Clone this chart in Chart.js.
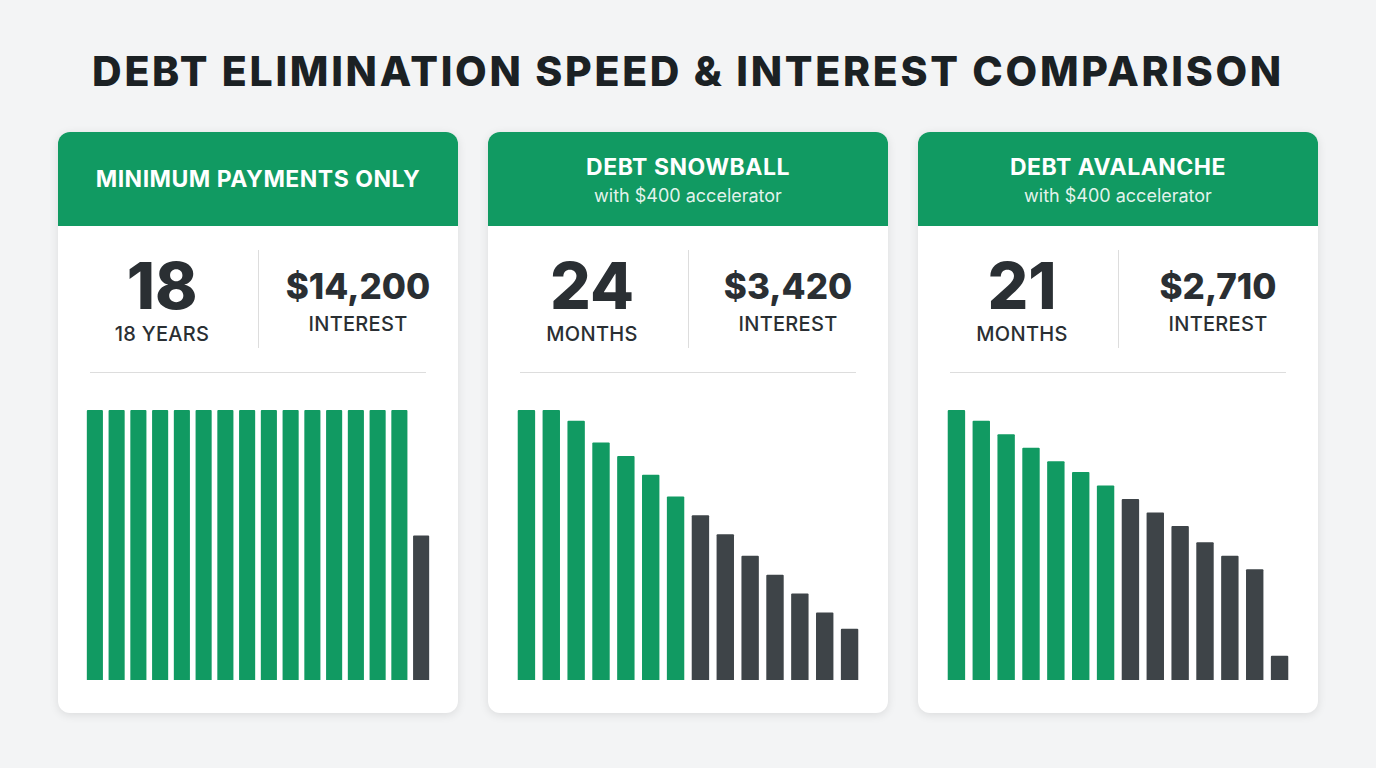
<!DOCTYPE html>
<html><head><meta charset="utf-8">
<script src="https://cdn.jsdelivr.net/npm/chart.js@4/dist/chart.umd.min.js"></script>
<style>
  body { margin:0; width:1376px; height:768px; background:#f3f4f5; font-family:Inter, "Open Sans", sans-serif; position:relative; overflow:hidden; }
  h1 { position:absolute; top:46px; left:0; width:1376px; margin:0; text-align:center; font-size:41px; font-weight:800; color:#1b2124; letter-spacing:2.7px; }
  .card { position:absolute; top:132px; width:400px; height:581px; background:#fff; border-radius:12px; box-shadow:0 2px 10px rgba(0,0,0,0.10); overflow:hidden; }
  .head { height:94px; background:#119a62; color:#fff; text-align:center; display:flex; flex-direction:column; justify-content:center; }
  .head .t { font-size:23px; font-weight:700; letter-spacing:0.5px; }
  .head .s { font-size:18px; margin-top:4px; color:rgba(255,255,255,0.9); }
  .stat { position:absolute; top:118px; width:200px; text-align:center; color:#2a2f33; }
  .big { font-size:64px; font-weight:800; line-height:72px; }
  .mid { font-size:35px; font-weight:800; line-height:72px; }
  .lbl { font-size:20px; line-height:24px; font-weight:500; letter-spacing:0.3px; }
  .vdiv { position:absolute; left:200px; top:118px; width:1px; height:98px; background:#ddd; }
  .hdiv { position:absolute; left:32px; right:32px; top:240px; height:1px; background:#ddd; }
  .plot { position:absolute; left:26px; width:348px; top:278px; height:270px; }
</style></head><body>
<h1>DEBT ELIMINATION SPEED &amp; INTEREST COMPARISON</h1>
<div id="cards"></div>
<script>
const titles    = ['MINIMUM PAYMENTS ONLY', 'DEBT SNOWBALL', 'DEBT AVALANCHE'];
const subtitles = ['', 'with $400 accelerator', 'with $400 accelerator'];
const bigNums   = ['18', '24', '21'];
const bigLabels = ['18 YEARS', 'MONTHS', 'MONTHS'];
const interest  = ['$14,200', '$3,420', '$2,710'];

// bar heights as % of starting balance
const minPay    = [100,100,100,100,100,100,100,100,100,100,100,100,100,100,100,53.5];
const snowball  = [100,100,96,88,83,76,68,61,54,46,39,32,25,19];
const avalanche = [100,96,91,86,81,77,72,67,62,57,51,46,41,9];
const greenCount = [15, 7, 7];

const series = [minPay, snowball, avalanche];
const GREEN = '#119a62', DARK = '#3e4448';

const wrap = document.getElementById('cards');
series.forEach((vals, i) => {
  const card = document.createElement('div');
  card.className = 'card';
  card.style.left = (58 + i * 430) + 'px';
  card.innerHTML =
    `<div class="head"><div class="t">${titles[i]}</div>` +
    (subtitles[i] ? `<div class="s">${subtitles[i]}</div>` : '') + `</div>` +
    `<div class="stat" style="left:4px"><div class="big">${bigNums[i]}</div><div class="lbl" style="margin-top:0px">${bigLabels[i]}</div></div>` +
    `<div class="vdiv"></div>` +
    `<div class="stat" style="left:200px"><div class="mid" style="margin-top:0px">${interest[i]}</div><div class="lbl" style="margin-top:-10px">INTEREST</div></div>` +
    `<div class="hdiv"></div>` +
    `<div class="plot"><canvas id="c${i}"></canvas></div>`;
  wrap.appendChild(card);

  new Chart(document.getElementById('c' + i), {
    type: 'bar',
    data: {
      labels: vals.map((_, k) => k + 1),
      datasets: [{
        data: vals,
        backgroundColor: vals.map((_, k) => k < greenCount[i] ? GREEN : DARK),
        borderRadius: 1,
        categoryPercentage: 1,
        barPercentage: i === 0 ? 0.74 : 0.7,
      }],
    },
    options: {
      animation: false,
      responsive: true,
      maintainAspectRatio: false,
      layout: { padding: 0 },
      scales: {
        x: { display: false },
        y: { display: false, min: 0, max: 100 },
      },
      plugins: { legend: { display: false }, tooltip: { enabled: false } },
    },
  });
});
</script>
</body></html>
